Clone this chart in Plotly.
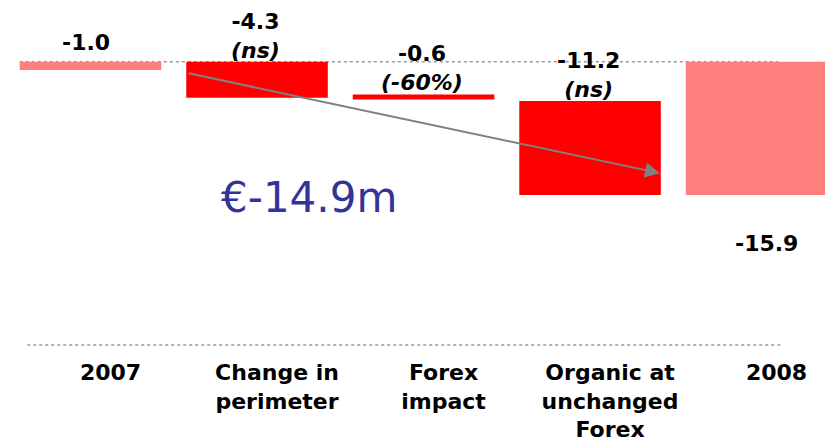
import plotly.graph_objects as go

# Net result bridge, 2007 -> 2008 (EUR m)
categories = ["2007", "Change in perimeter", "Forex impact", "Organic at unchanged Forex", "2008"]
tick_labels = ["2007", "Change in<br>perimeter", "Forex<br>impact", "Organic at<br>unchanged<br>Forex", "2008"]
values = [-1.0, -4.3, -0.6, -11.2, -15.9]
bases = [0.0, 0.0, -3.9, -4.7, 0.0]
notes = ["", "(ns)", "(-60%)", "(ns)", ""]
total_change = "€-14.9m"

PINK = "#FF7F7F"
RED = "#FF0000"
colors = [PINK, RED, RED, RED, PINK]
FONT = "DejaVu Sans"

fig = go.Figure()
fig.add_trace(go.Bar(
    x=categories, y=values, base=bases,
    marker=dict(color=colors, line=dict(width=0)),
    width=0.85, hoverinfo="skip",
))

annotations = []
for i, (v, b, note) in enumerate(zip(values, bases, notes)):
    label = f"<b>{v:.1f}</b>"
    if note:
        label += f"<br><b><i>{note}</i></b>"
    # category positions are given by index so "2007"/"2008" are not read as numbers
    if i == len(values) - 1:
        annotations.append(dict(
            x=i, y=b + v, xref="x", yref="y", text=label, showarrow=False,
            yanchor="top", xshift=10, yshift=-34,
            font=dict(family=FONT, size=22, color="black"),
        ))
    else:
        annotations.append(dict(
            x=i, y=b, xref="x", yref="y", text=label, showarrow=False,
            yanchor="bottom", yshift=-3 if note else 5,
            xshift=-5 if not note else -2,
            font=dict(family=FONT, size=22, color="black"),
        ))

# overall change callout
annotations.append(dict(
    x=1.31, y=-16.2, xref="x", yref="y", text=total_change, showarrow=False,
    font=dict(family=FONT, size=42, color="#333399"),
))

# trend arrow from the perimeter bar down to the organic bar
annotations.append(dict(
    x=3.42, y=-13.3, ax=0.58, ay=-1.35, xref="x", yref="y", axref="x", ayref="y",
    text="", showarrow=True, arrowhead=2, arrowsize=1.5, arrowwidth=2,
    arrowcolor="#808080",
))

shapes = [
    dict(type="line", xref="paper", yref="y", x0=0.024, x1=0.943, y0=0, y1=0,
         line=dict(color="#999999", width=1.5, dash="dot"), layer="below"),
    dict(type="line", xref="paper", yref="paper", x0=0.033, x1=0.948, y0=0, y1=0,
         line=dict(color="#999999", width=1.5, dash="dot"), layer="below"),
]

fig.update_layout(
    width=825, height=442,
    margin=dict(l=0, r=0, t=0, b=97),
    paper_bgcolor="white", plot_bgcolor="white",
    showlegend=False,
    annotations=annotations,
    shapes=shapes,
    xaxis=dict(
        type="category", range=[-0.5435, 4.411],
        tickmode="array", tickvals=categories, ticktext=tick_labels,
        tickfont=dict(family=FONT, size=22, color="black", weight="bold"),
        showgrid=False, zeroline=False, showline=False, ticks="",
        ticklabelshift=20, ticklabelstandoff=12,
    ),
    yaxis=dict(
        range=[-33.8, 7.36], visible=False, showgrid=False, zeroline=False,
    ),
)

fig.write_html("out.html")
